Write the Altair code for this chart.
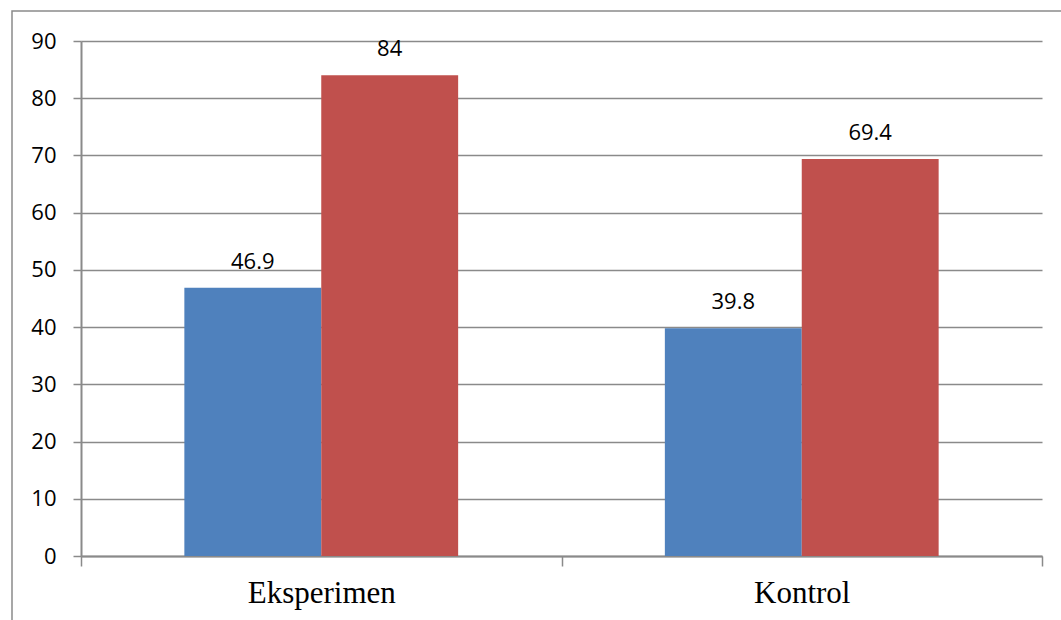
import altair as alt
import pandas as pd

categories = ["Eksperimen", "Eksperimen", "Kontrol", "Kontrol"]
series = ["Pretest", "Posttest", "Pretest", "Posttest"]
values = [46.9, 84, 39.8, 69.4]
y_ticks = [0, 10, 20, 30, 40, 50, 60, 70, 80, 90]
cat_order = ["Eksperimen", "Kontrol"]
series_order = ["Pretest", "Posttest"]
colors = ["#4F81BD", "#C0504D"]

df = pd.DataFrame({"kelompok": categories, "tes": series, "nilai": values})

grey = "#8a8a8a"

x_enc = alt.X(
    "kelompok:N", sort=cat_order,
    scale=alt.Scale(paddingInner=0, paddingOuter=0),
    axis=alt.Axis(title=None, labelAngle=0, tickBand="extent", tickSize=10,
                  tickColor=grey, tickWidth=1.5, domainColor=grey, domainWidth=2,
                  labelFont="Liberation Serif", labelFontSize=31, labelColor="black",
                  labelPadding=12, grid=False),
)
xoff_enc = alt.XOffset("tes:N", sort=series_order,
                       scale=alt.Scale(paddingOuter=0.755, paddingInner=0))
y_enc = alt.Y(
    "nilai:Q", scale=alt.Scale(domain=[0, 90], nice=False),
    axis=alt.Axis(title=None, values=y_ticks, grid=True, gridColor=grey, gridWidth=1.5,
                  tickSize=8, tickColor=grey, tickWidth=1.5, domainColor=grey, domainWidth=2,
                  labelFont="Open Sans", labelFontSize=22, labelColor="black",
                  labelPadding=17),
)

bars = alt.Chart(df).mark_bar().encode(
    x=x_enc, xOffset=xoff_enc, y=y_enc,
    color=alt.Color("tes:N", sort=series_order,
                    scale=alt.Scale(domain=series_order, range=colors), legend=None),
)

labels = alt.Chart(df).mark_text(
    font="Open Sans", fontSize=22, color="black", baseline="alphabetic", dy=-19
).encode(
    x=x_enc, xOffset=xoff_enc, y=y_enc,
    text=alt.Text("nilai:Q", format="~g"),
)

frame = alt.Chart(pd.DataFrame({"a": [0]})).mark_rect(
    filled=False, stroke=grey, strokeWidth=1.5
).encode(x=alt.value(-69), x2=alt.value(1200), y=alt.value(-30), y2=alt.value(800))

chart = alt.layer(frame, bars, labels).properties(
    width=961, height=515,
    autosize=alt.AutoSizeParams(type="none"),
    padding={"left": 81, "top": 41, "right": 19, "bottom": 64},
).configure_view(stroke="transparent")

chart.save("out.html", embed_options={"renderer": "svg", "actions": False})
